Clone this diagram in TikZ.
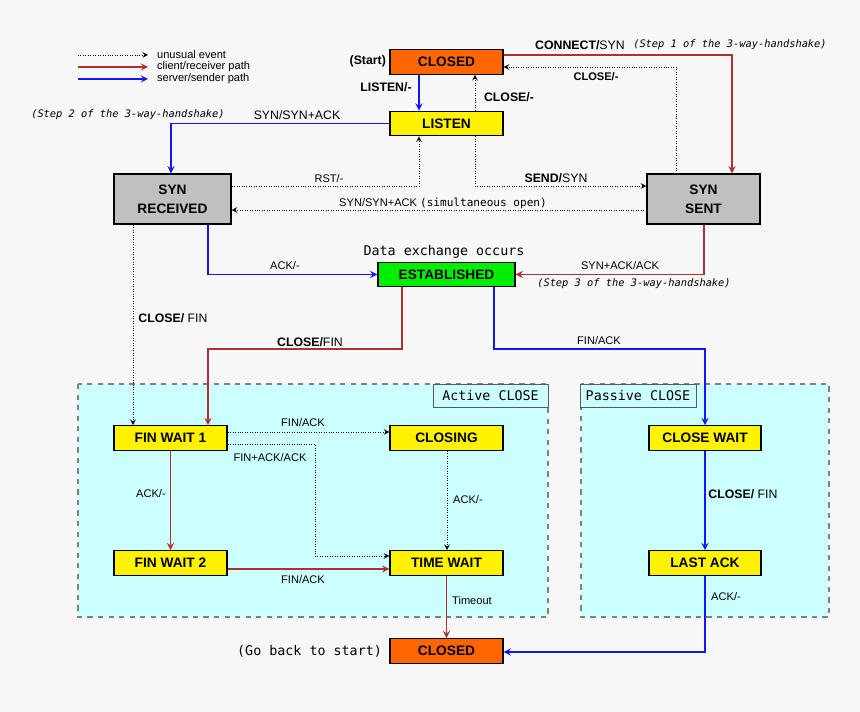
\documentclass[tikz,border=0pt]{standalone}
\usepackage{fontspec}
\setmainfont{Liberation Sans}
\setmonofont{DejaVu Sans Mono}
\usetikzlibrary{shapes, arrows}

\definecolor{bg}{RGB}{247,247,247}
\definecolor{cred}{RGB}{176,48,48}
\definecolor{cblue}{RGB}{20,20,245}
\definecolor{corange}{RGB}{255,102,0}
\definecolor{cgreen}{RGB}{0,238,0}
\definecolor{cgray}{RGB}{192,192,192}
\definecolor{ccyan}{RGB}{204,255,255}

\tikzset{
	state/.style={rectangle, draw, thick, font=\fontsize{7.8}{9}\selectfont\bfseries, minimum width=2.26cm, minimum height=0.49cm, inner sep=0pt},
	lbl/.style={font=\fontsize{6.3}{7}\selectfont, inner sep=1pt},
	hsnote/.style={font=\fontsize{5.9}{7}\selectfont\ttfamily\itshape, inner sep=1pt},
	client/.style={draw=cred, thick, -stealth},
	server/.style={draw=cblue, thick, -stealth},
	unusual/.style={draw, densely dotted, -stealth},
}

\begin{document}
\begin{tikzpicture}[x=0.02cm, y=-0.02cm]
		\fill[bg] (0, 0) rectangle (860, 712);
		% close areas
		\draw[dashed, thick, gray, fill=ccyan] (78, 384) rectangle (548, 617);
		\draw[dashed, thick, gray, fill=ccyan] (581, 384) rectangle (829, 617);
		\node(ACT) at (490.5, 395.5)[rectangle, draw=gray!70!black, fill=ccyan, minimum width=2.3cm, minimum height=0.46cm, font=\fontsize{7.6}{9}\selectfont\ttfamily]{Active CLOSE};
		\node(PAS) at (638, 395.5)[rectangle, draw=gray!70!black, fill=ccyan, minimum width=2.28cm, minimum height=0.46cm, font=\fontsize{7.6}{9}\selectfont\ttfamily]{Passive CLOSE};
		% legend
		\draw[unusual] (78, 55)--(148, 55);
		\draw[client] (78, 67)--(148, 67);
		\draw[server] (78, 79)--(148, 79);
		\node(LG1) at (155, 55)[lbl, anchor=west]{unusual event};
		\node(LG2) at (155, 67)[lbl, anchor=west]{client/receiver path};
		\node(LG3) at (155, 79)[lbl, anchor=west]{server/sender path};
		% states
		\node(CLOSED) at (446.5, 62)[state, fill=corange]{CLOSED};
		\node(LISTEN) at (446.5, 123.5)[state, fill=yellow]{LISTEN};
		\node(SYNR) at (172.5, 199)[state, fill=cgray, minimum width=2.34cm, minimum height=1cm, align=center]{SYN\\[2pt]RECEIVED};
		\node(SYNS) at (703.5, 199)[state, fill=cgray, minimum height=1cm, align=center]{SYN\\[2pt]SENT};
		\node(EST) at (446.5, 274.5)[state, fill=cgreen, minimum width=2.74cm]{ESTABLISHED};
		\node(FW1) at (170.5, 438)[state, fill=yellow]{FIN WAIT 1};
		\node(CLOSING) at (446.5, 438)[state, fill=yellow]{CLOSING};
		\node(CW) at (705, 438)[state, fill=yellow, minimum width=2.24cm]{CLOSE WAIT};
		\node(FW2) at (170.5, 563)[state, fill=yellow]{FIN WAIT 2};
		\node(TW) at (446.5, 563)[state, fill=yellow]{TIME WAIT};
		\node(LA) at (705, 563)[state, fill=yellow, minimum width=2.24cm]{LAST ACK};
		\node(CLOSED2) at (446.5, 651)[state, fill=corange]{CLOSED};
		% connectors
		\draw[client] (CLOSED.east |- 0, 55)--(732, 55)--(732, 0 |- SYNS.north);
		\draw[unusual] (676, 0 |- SYNS.north)--(676, 67)--(CLOSED.east |- 0, 67);
		\draw[server] (419, 0 |- CLOSED.south)--(419, 0 |- LISTEN.north);
		\draw[unusual] (475, 0 |- LISTEN.north)--(475, 0 |- CLOSED.south);
		\draw[server] (LISTEN.west)--(171, 123.5)--(171, 0 |- SYNR.north);
		\draw[unusual] (SYNR.east |- 0, 186)--(419, 186)--(419, 0 |- LISTEN.south);
		\draw[unusual] (475, 0 |- LISTEN.south)--(475, 186)--(SYNS.west |- 0, 186);
		\draw[unusual] (SYNS.west |- 0, 210)--(SYNR.east |- 0, 210);
		\draw[server] (208, 0 |- SYNR.south)--(208, 274.5)--(EST.west);
		\draw[client] (704, 0 |- SYNS.south)--(704, 274.5)--(EST.east);
		\draw[unusual] (133, 0 |- SYNR.south)--(133, 0 |- FW1.north);
		\draw[client] (402, 0 |- EST.south)--(402, 349)--(208, 349)--(208, 0 |- FW1.north);
		\draw[server] (494, 0 |- EST.south)--(494, 349)--(705, 349)--(CW.north);
		\draw[unusual] (FW1.east |- 0, 432)--(CLOSING.west |- 0, 432);
		\draw[unusual] (FW1.east |- 0, 444)--(315, 444)--(315, 556)--(TW.west |- 0, 556);
		\draw[client] (FW1.south)--(FW2.north);
		\draw[unusual] (447, 0 |- CLOSING.south)--(447, 0 |- TW.north);
		\draw[client] (FW2.east |- 0, 569)--(TW.west |- 0, 569);
		\draw[server] (CW.south)--(LA.north);
		\draw[client] (TW.south)--(CLOSED2.north);
		\draw[server] (LA.south)--(705, 652)--(CLOSED2.east |- 0, 652);
		% labels
		\node(L1) at (388, 61)[lbl, anchor=east, font=\fontsize{7}{8}\selectfont\bfseries]{(Start)};
		\node(L2) at (580, 45)[lbl, font=\fontsize{7}{8}\selectfont]{\textbf{CONNECT/}SYN};
		\node(L3) at (730, 45)[hsnote]{(Step 1 of the 3-way-handshake)};
		\node(L4) at (596, 77)[lbl, font=\fontsize{6.3}{7}\selectfont\bfseries]{CLOSE/-};
		\node(L5) at (386, 87)[lbl, font=\fontsize{7}{8}\selectfont\bfseries]{LISTEN/-};
		\node(L6) at (509, 97)[lbl, font=\fontsize{7}{8}\selectfont\bfseries]{CLOSE/-};
		\node(L7) at (128, 115)[hsnote]{(Step 2 of the 3-way-handshake)};
		\node(L8) at (297, 115)[lbl, font=\fontsize{7}{8}\selectfont]{SYN/SYN+ACK};
		\node(L9) at (329, 179)[lbl]{RST/-};
		\node(L10) at (556, 178)[lbl, font=\fontsize{7}{8}\selectfont]{\textbf{SEND/}SYN};
		\node(L11) at (443, 203)[lbl, font=\fontsize{6.3}{7}\selectfont]{SYN/SYN+ACK \texttt{(simultaneous open)}};
		\node(L12) at (444, 252)[font=\fontsize{7.6}{9}\selectfont\ttfamily, inner sep=1pt]{Data exchange occurs};
		\node(L13) at (285, 266)[lbl]{ACK/-};
		\node(L14) at (620, 266)[lbl]{SYN+ACK/ACK};
		\node(L15) at (634, 284)[hsnote]{(Step 3 of the 3-way-handshake)};
		\node(L16) at (173, 318)[lbl, font=\fontsize{7}{8}\selectfont]{\textbf{CLOSE/} FIN};
		\node(L17) at (310, 342)[lbl, font=\fontsize{7}{8}\selectfont]{\textbf{CLOSE/}FIN};
		\node(L18) at (599, 341)[lbl]{FIN/ACK};
		\node(L19) at (303, 423)[lbl]{FIN/ACK};
		\node(L20) at (270, 458)[lbl]{FIN+ACK/ACK};
		\node(L21) at (151, 494)[lbl]{ACK/-};
		\node(L22) at (468, 500)[lbl]{ACK/-};
		\node(L23) at (743, 494)[lbl, font=\fontsize{7}{8}\selectfont]{\textbf{CLOSE/} FIN};
		\node(L24) at (303, 580)[lbl]{FIN/ACK};
		\node(L25) at (472, 601)[lbl]{Timeout};
		\node(L26) at (726, 597)[lbl]{ACK/-};
		\node(L27) at (384, 651)[font=\fontsize{7.6}{9}\selectfont\ttfamily, inner sep=1pt, anchor=east]{(Go back to start)};
		\end{tikzpicture}
\end{document}
